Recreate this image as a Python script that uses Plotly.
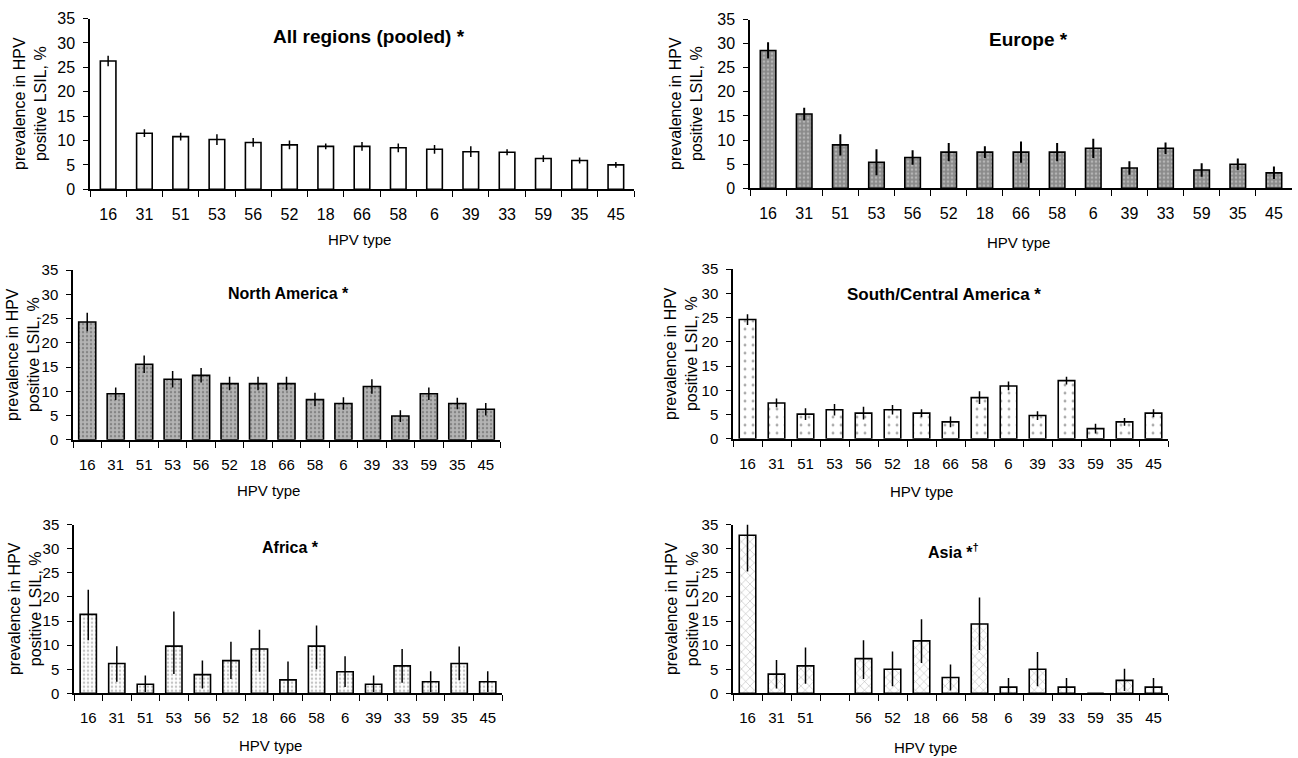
import plotly.graph_objects as go

W, H = 1298, 758
# measured vertical placement of the rendered page: screen_y = Y_OFF + Y_SCALE * figure_y
Y_OFF, Y_SCALE = 7.4, 0.978

hpv_types = ["16", "31", "51", "53", "56", "52", "18", "66", "58", "6", "39", "33", "59", "35", "45"]

pooled_vals = [26.3, 11.5, 10.8, 10.2, 9.6, 9.1, 8.8, 8.8, 8.5, 8.2, 7.7, 7.6, 6.3, 5.9, 5.0]
pooled_err = [1.1, 0.8, 0.8, 1.1, 0.9, 0.9, 0.6, 0.9, 0.9, 0.9, 1.1, 0.6, 0.7, 0.6, 0.6]

europe_vals = [28.6, 15.4, 9.0, 5.4, 6.4, 7.5, 7.5, 7.5, 7.5, 8.3, 4.2, 8.3, 3.8, 5.0, 3.2]
europe_err = [1.7, 1.3, 2.2, 2.7, 1.5, 1.9, 1.2, 2.2, 1.9, 2.0, 1.4, 1.2, 1.4, 1.2, 1.3]

namerica_vals = [24.3, 9.5, 15.6, 12.5, 13.3, 11.6, 11.6, 11.6, 8.3, 7.5, 11.0, 4.9, 9.5, 7.5, 6.3]
namerica_err = [1.9, 1.3, 1.8, 1.7, 1.5, 1.4, 1.4, 1.4, 1.4, 1.3, 1.5, 1.2, 1.3, 1.2, 1.3]

scamerica_vals = [24.6, 7.4, 5.1, 6.0, 5.3, 6.0, 5.3, 3.5, 8.5, 10.9, 4.8, 12.0, 2.1, 3.5, 5.3]
scamerica_err = [1.1, 0.9, 1.2, 1.2, 1.3, 1.0, 0.8, 1.1, 1.3, 0.9, 0.9, 0.8, 1.0, 0.8, 0.8]

africa_vals = [16.4, 6.2, 1.9, 9.8, 3.9, 6.8, 9.2, 2.8, 9.8, 4.5, 1.9, 5.7, 2.4, 6.2, 2.4]
africa_err_up = [5.1, 3.6, 1.8, 7.2, 2.9, 3.9, 4.0, 3.8, 4.3, 3.2, 1.8, 3.5, 2.2, 3.5, 2.2]
africa_err_down = [5.4, 3.8, 1.6, 5.8, 2.9, 3.8, 4.7, 2.8, 4.8, 3.2, 1.6, 3.5, 2.1, 3.5, 2.1]

asia_vals = [32.8, 4.0, 5.7, None, 7.2, 5.0, 10.9, 3.3, 14.4, 1.3, 5.0, 1.3, 0.0, 2.7, 1.3]
asia_err_up = [2.7, 2.9, 3.8, 0, 3.8, 3.7, 4.5, 2.7, 5.5, 1.9, 3.6, 1.9, 0, 2.4, 1.9]
asia_err_down = [7.5, 3.0, 3.7, 0, 4.2, 3.5, 4.6, 2.7, 5.4, 1.3, 3.5, 1.3, 0, 2.2, 1.3]
asia_ticktext = ["16", "31", "51", "", "56", "52", "18", "66", "58", "6", "39", "33", "59", "35", "45"]

FONT = "Liberation Sans, Arial, sans-serif"


def fx(x):
    return min(1.0, max(0.0, x / W))


def fy(y):
    yy = (y - Y_OFF) / Y_SCALE
    return min(1.0, max(0.0, 1 - yy / H))


panels = [
    dict(title="All regions (pooled) *", vals=pooled_vals, up=pooled_err, down=pooled_err,
         color="#ffffff", pattern=dict(shape=""),
         px=(90, 634), py=(17, 188), tpos=(369, 35), ylab=30, xlab=(359, 238),
         tfs=19, tickfs=16, bw=0.43, ticktext=hpv_types, ethick=1.5),
    dict(title="Europe *", vals=europe_vals, up=europe_err, down=europe_err,
         color="#8a8a8a", pattern=dict(shape=".", fgcolor="#e0e0e0", size=4, solidity=0.35),
         px=(750, 1292), py=(18, 187), tpos=(1028, 38), ylab=686, xlab=(1018, 241),
         tfs=19, tickfs=16, bw=0.43, ticktext=hpv_types, ethick=2),
    dict(title="North America *", vals=namerica_vals, up=namerica_err, down=namerica_err,
         color="#b4b4b4", pattern=dict(shape=".", fgcolor="#555555", size=4, solidity=0.3),
         px=(73, 500), py=(269, 439), tpos=(288, 292), ylab=23, xlab=(268, 490),
         tfs=16, tickfs=15, bw=0.6, ticktext=hpv_types, ethick=1.5),
    dict(title="South/Central America *", vals=scamerica_vals, up=scamerica_err, down=scamerica_err,
         color="#ffffff", pattern=dict(shape=".", fgcolor="#555555", size=8, solidity=0.1),
         px=(733, 1168), py=(268, 438), tpos=(944, 293), ylab=681, xlab=(921, 491),
         tfs=17, tickfs=15, bw=0.57, ticktext=hpv_types, ethick=1.5),
    dict(title="Africa *", vals=africa_vals, up=africa_err_up, down=africa_err_down,
         color="#ffffff", pattern=dict(shape=".", fgcolor="#8a8a8a", size=4, solidity=0.3),
         px=(74, 502), py=(524, 693), tpos=(290, 547), ylab=25, xlab=(270, 745),
         tfs=16, tickfs=15, bw=0.57, ticktext=hpv_types, ethick=1.5),
    dict(title="Asia *<sup>†</sup>", vals=asia_vals, up=asia_err_up, down=asia_err_down,
         color="#ffffff", pattern=dict(shape="x", fgcolor="#555555", size=6, solidity=0.15),
         px=(733, 1168), py=(524, 693), tpos=(953, 550), ylab=682, xlab=(925, 747),
         tfs=16, tickfs=15, bw=0.57, ticktext=asia_ticktext, ethick=1.5),
]

fig = go.Figure()
annotations = []
layout_axes = {}

for i, p in enumerate(panels, start=1):
    xa = "x" if i == 1 else f"x{i}"
    ya = "y" if i == 1 else f"y{i}"
    fig.add_trace(go.Bar(
        x=hpv_types, y=p["vals"], xaxis=xa, yaxis=ya,
        width=p["bw"],
        marker=dict(color=p["color"], line=dict(color="black", width=1.6), pattern=p["pattern"]),
        error_y=dict(type="data", symmetric=False, array=p["up"], arrayminus=p["down"],
                     color="black", thickness=p["ethick"], width=0),
        showlegend=False, hoverinfo="skip",
    ))
    xd = [fx(p["px"][0]), fx(p["px"][1])]
    yd = [fy(p["py"][1]), fy(p["py"][0])]
    xkey = "xaxis" if i == 1 else f"xaxis{i}"
    ykey = "yaxis" if i == 1 else f"yaxis{i}"
    layout_axes[xkey] = dict(
        domain=xd, anchor=ya, type="category", range=[-0.5, 14.5],
        tickmode="array", tickvals=hpv_types, ticktext=p["ticktext"],
        tickson="boundaries", ticks="outside", ticklen=6, tickwidth=1.2, tickcolor="black",
        showline=True, linecolor="black", linewidth=1.5, showgrid=False, zeroline=False,
        tickfont=dict(family=FONT, size=p["tickfs"], color="black"),
        ticklabelstandoff=10, fixedrange=True,
    )
    layout_axes[ykey] = dict(
        domain=yd, anchor=xa, range=[0, 35], tickvals=[0, 5, 10, 15, 20, 25, 30, 35],
        ticks="outside", ticklen=5, tickwidth=1.2, tickcolor="black",
        showline=True, linecolor="black", linewidth=1.5, showgrid=False, zeroline=False,
        tickfont=dict(family=FONT, size=p["tickfs"], color="black"),
        ticklabelstandoff=5, fixedrange=True,
    )
    annotations.append(dict(
        text=f"<b>{p['title']}</b>", x=fx(p["tpos"][0]), y=fy(p["tpos"][1]),
        xref="paper", yref="paper", xanchor="center", yanchor="middle", showarrow=False,
        font=dict(family=FONT, size=p["tfs"], color="black"),
    ))
    annotations.append(dict(
        text="prevalence in HPV<br>positive LSIL, %", textangle=-90,
        x=fx(p["ylab"]), y=fy((p["py"][0] + p["py"][1]) / 2),
        xref="paper", yref="paper", xanchor="center", yanchor="middle", showarrow=False,
        font=dict(family=FONT, size=16, color="black"),
    ))
    annotations.append(dict(
        text="HPV type", x=fx(p["xlab"][0]), y=fy(p["xlab"][1]),
        xref="paper", yref="paper", xanchor="center", yanchor="middle", showarrow=False,
        font=dict(family=FONT, size=15, color="black"),
    ))

fig.update_layout(
    width=W, height=H, margin=dict(l=0, r=0, t=0, b=0),
    paper_bgcolor="white", plot_bgcolor="white",
    annotations=annotations, bargap=0.4,
    **layout_axes,
)

page_fit_js = (
    "var gd = document.getElementById('{plot_id}');"
    "gd.style.position = 'fixed'; gd.style.left = '0px'; gd.style.top = '0px';"
    "document.body.style.margin = '0';"
    "document.body.style.overflow = 'hidden';"
    "document.documentElement.style.overflow = 'hidden';"
)

fig.write_html("out.html", config={"displayModeBar": False}, post_script=page_fit_js)
